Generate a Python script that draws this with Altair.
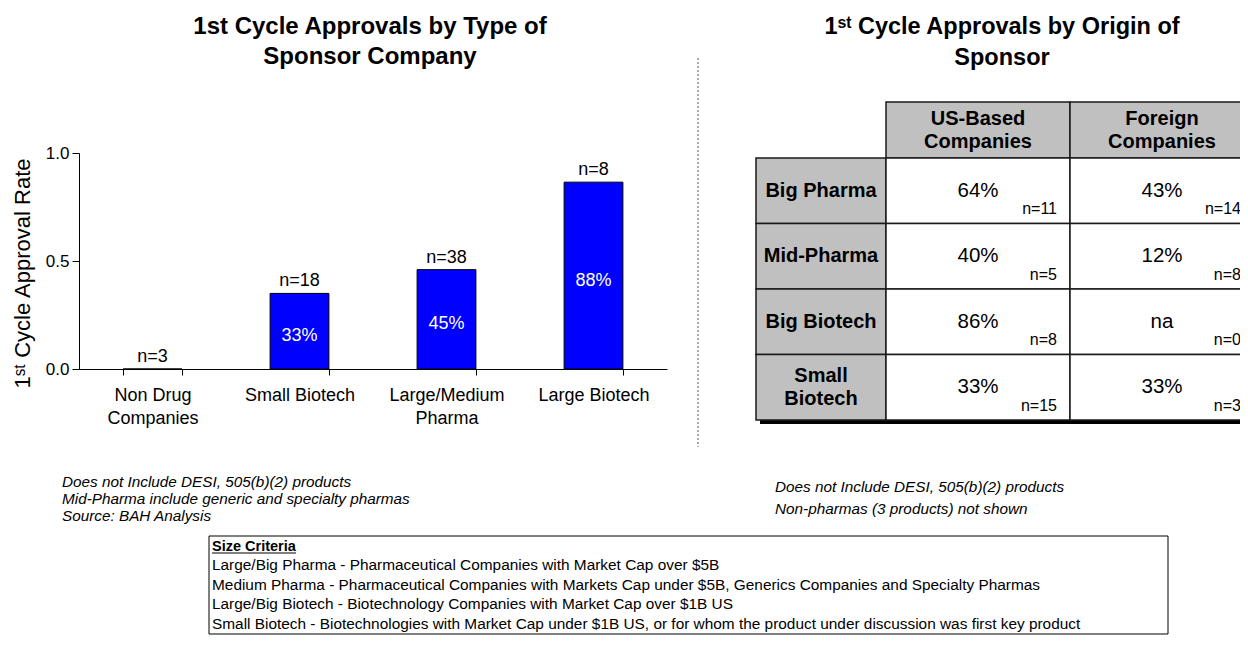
import altair as alt
import pandas as pd

FONT = "Liberation Sans, Arial, sans-serif"

# ---------------- data ----------------
categories = ["Non Drug Companies", "Small Biotech", "Large/Medium Pharma", "Large Biotech"]
rates = [0.0, 0.35, 0.46, 0.865]
n_labels = ["n=3", "n=18", "n=38", "n=8"]
pct_labels = ["", "33%", "45%", "88%"]

row_labels = ["Big Pharma", "Mid-Pharma", "Big Biotech", "Small\nBiotech"]
col_labels = ["US-Based\nCompanies", "Foreign\nCompanies"]
us_pct = ["64%", "40%", "86%", "33%"]
us_n = ["n=11", "n=5", "n=8", "n=15"]
foreign_pct = ["43%", "12%", "na", "33%"]
foreign_n = ["n=14", "n=8", "n=0", "n=3"]

left_notes = ["Does not Include DESI, 505(b)(2) products",
              "Mid-Pharma include generic and specialty pharmas",
              "Source: BAH Analysis"]
right_notes = ["Does not Include DESI, 505(b)(2) products",
               "Non-pharmas (3 products) not shown"]
criteria_title = "Size Criteria"
criteria_lines = [
    "Large/Big Pharma - Pharmaceutical Companies with Market Cap over $5B",
    "Medium Pharma - Pharmaceutical Companies with Markets Cap under $5B, Generics Companies and Specialty Pharmas",
    "Large/Big Biotech - Biotechnology Companies with Market Cap over $1B US",
    "Small Biotech - Biotechnologies with Market Cap under $1B US, or for whom the product under discussion was first key product",
]

W, H = 1232, 630

# ---------------- bar chart ----------------
bar_df = pd.DataFrame({"cat": categories, "rate": rates, "n": n_labels, "pct": pct_labels})

label_expr = ("datum.label == 'Non Drug Companies' ? ['Non Drug', 'Companies'] : "
              "datum.label == 'Large/Medium Pharma' ? ['Large/Medium', 'Pharma'] : datum.label")

xb = alt.X("cat:N", sort=categories,
           scale=alt.Scale(domain=categories, range=[71, 659], paddingInner=0.6, paddingOuter=0.3),
           axis=alt.Axis(title=None, offset=-(H - 361), tickBand="extent", labelAngle=0,
                         labelExpr=label_expr, labelFontSize=18, labelFont=FONT, labelColor="black",
                         labelPadding=11, labelLineHeight=23, tickSize=6, tickColor="black",
                         domainColor="black", labelBaseline="top"))
yb = alt.Y("rate:Q",
           scale=alt.Scale(domain=[0, 1], range=[361, 145], nice=False, zero=True),
           axis=alt.Axis(title="1ˢᵗ Cycle Approval Rate", offset=-71, values=[0, 0.5, 1], format=".1f",
                         labelFontSize=17, labelFont=FONT, labelColor="black", tickSize=7,
                         tickColor="black", domainColor="black", grid=False, titleFont=FONT,
                         titleFontSize=22, titleFontWeight="normal", titleColor="black",
                         titlePadding=11, labelPadding=3, titleY=265))

bars = alt.Chart(bar_df).mark_bar(color="#0000ff", stroke="black", strokeWidth=1).encode(x=xb, y=yb)
ntext = alt.Chart(bar_df).mark_text(font=FONT, fontSize=18, baseline="bottom", dy=-3, color="black").encode(
    x=alt.X("cat:N", sort=categories), y="rate:Q", text="n:N")
ptext = alt.Chart(bar_df).transform_calculate(mid="datum.rate / 2").mark_text(
    font=FONT, fontSize=18, baseline="middle", dy=5, color="white").encode(
    x=alt.X("cat:N", sort=categories), y="mid:Q", text="pct:N")
bar_layer = alt.layer(bars, ntext, ptext)

# ---------------- table ----------------
body_rows = []
for i, r in enumerate(row_labels):
    body_rows.append({"row": r, "col": col_labels[0], "pct": us_pct[i], "n": us_n[i]})
    body_rows.append({"row": r, "col": col_labels[1], "pct": foreign_pct[i], "n": foreign_n[i]})
body_df = pd.DataFrame(body_rows)
rowhead_df = pd.DataFrame({"row": row_labels})
colhead_df = pd.DataFrame({"col": col_labels})

yrows = dict(field="row", type="nominal", sort=row_labels,
             scale=alt.Scale(domain=row_labels, range=[150, 412], paddingInner=0, paddingOuter=0),
             axis=None)
xcols = dict(field="col", type="nominal", sort=col_labels,
             scale=alt.Scale(domain=col_labels, range=[878, 1246], paddingInner=0, paddingOuter=0),
             axis=None)

TABLE_STROKE = "#1a1a1a"
shadow = alt.Chart(alt.Data(values=[{}])).mark_rule(color="black", strokeWidth=4).encode(
    x=alt.value(752), x2=alt.value(1246), y=alt.value(414))

multi = "indexof(datum.row, '\\n') >= 0"
rowhead_rect = alt.Chart(rowhead_df).mark_rect(fill="#c0c0c0", stroke=TABLE_STROKE, strokeWidth=1.5).encode(
    y=alt.Y(**yrows), x=alt.value(748), x2=alt.value(878))
rowhead_text1 = alt.Chart(rowhead_df).transform_filter("!(" + multi + ")").mark_text(
    font=FONT, fontSize=20, fontWeight="bold", baseline="middle", color="black").encode(
    y=alt.Y(**yrows, bandPosition=0.5), x=alt.value(813), text="row:N")
rowhead_text2 = alt.Chart(rowhead_df).transform_filter(multi).mark_text(
    font=FONT, fontSize=20, fontWeight="bold", lineBreak="\n", baseline="middle", color="black",
    lineHeight=23, dy=-11).encode(
    y=alt.Y(**yrows, bandPosition=0.5), x=alt.value(813), text="row:N")
rowhead = alt.layer(rowhead_rect, rowhead_text1, rowhead_text2)

colhead_rect = alt.Chart(colhead_df).mark_rect(fill="#c0c0c0", stroke=TABLE_STROKE, strokeWidth=1.5).encode(
    x=alt.X(**xcols), y=alt.value(94), y2=alt.value(150))
colhead_text = alt.Chart(colhead_df).mark_text(font=FONT, fontSize=20, fontWeight="bold", lineBreak="\n",
                                               baseline="middle", color="black", lineHeight=23).encode(
    x=alt.X(**xcols, bandPosition=0.5), y=alt.value(111), text="col:N")
colhead = alt.layer(colhead_rect, colhead_text)

body_rect = alt.Chart(body_df).mark_rect(fill="white", stroke=TABLE_STROKE, strokeWidth=1.5).encode(
    x=alt.X(**xcols), y=alt.Y(**yrows))
body_pct = alt.Chart(body_df).mark_text(font=FONT, fontSize=20.5, baseline="middle", color="black").encode(
    x=alt.X(**xcols, bandPosition=0.5), y=alt.Y(**yrows, bandPosition=0.5), text="pct:N")
body_n = alt.Chart(body_df).mark_text(font=FONT, fontSize=16, baseline="middle", align="right", dx=-13,
                                      color="black").encode(
    x=alt.X(**xcols, bandPosition=1), y=alt.Y(**yrows, bandPosition=0.78), text="n:N")
body = alt.layer(body_rect, body_pct, body_n)

# ---------------- titles, notes, decorations ----------------
one = alt.Data(values=[{}])

def label(text, x, y, size, weight="normal", style="normal", align="center", lh=None, baseline="alphabetic"):
    kw = dict(font=FONT, fontSize=size, fontWeight=weight, fontStyle=style, align=align,
              baseline=baseline, color="black")
    if lh is not None:
        kw["lineHeight"] = lh
    return alt.Chart(one).mark_text(**kw).encode(x=alt.value(x), y=alt.value(y), text=alt.value(text))

title_left = label(["1st Cycle Approvals by Type of", "Sponsor Company"], 362, 26, 24, weight="bold", lh=30)
title_right = label(["1ˢᵗ Cycle Approvals by Origin of", "Sponsor"], 994, 26, 23.5, weight="bold", lh=31)

divider = alt.Chart(one).mark_rule(color="#555555", strokeWidth=1, strokeDash=[2, 2]).encode(
    x=alt.value(690), y=alt.value(50), y2=alt.value(439))

notes_left = label(left_notes, 54, 479, 15.3, style="italic", align="left", lh=17)
notes_right = label(right_notes, 767, 484, 15.3, style="italic", align="left", lh=22)

box = alt.Chart(one).mark_rect(fill="white", stroke="black", strokeWidth=1).encode(
    x=alt.value(201), x2=alt.value(1160), y=alt.value(528), y2=alt.value(626))
crit_title = label(criteria_title, 204, 543, 14.5, weight="bold", align="left")
crit_ul = alt.Chart(one).mark_rule(color="black", strokeWidth=1).encode(
    x=alt.value(204), x2=alt.value(288), y=alt.value(545))
crit_text = label(criteria_lines, 204, 562, 15.4, align="left", lh=19.5)

chart = alt.layer(
    bar_layer, divider, shadow, rowhead, colhead, body,
    title_left, title_right, notes_left, notes_right, box, crit_title, crit_ul, crit_text,
).resolve_scale(x="independent", y="independent").properties(
    width=W, height=H, padding=0, autosize=alt.AutoSizeParams(type="none"),
    view=alt.ViewBackground(stroke="transparent", strokeWidth=0),
).configure_view(strokeWidth=0, stroke="transparent").configure(background="white")

chart.save("out.html", embed_options={"renderer": "svg", "actions": False})
